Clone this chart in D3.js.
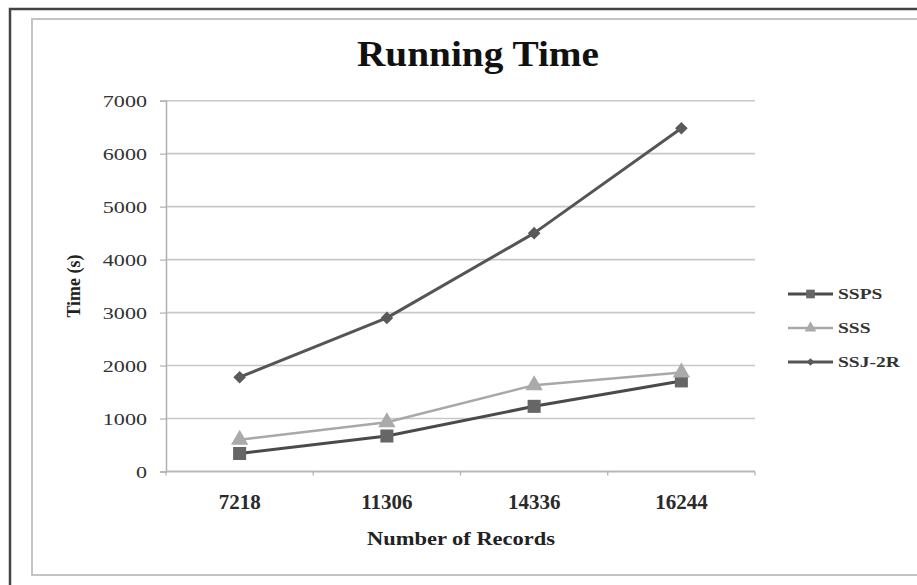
<!DOCTYPE html>
<html>
<head>
<meta charset="utf-8">
<script src="https://cdn.jsdelivr.net/npm/d3@7"></script>
<style>
html,body{margin:0;padding:0;background:#fff;}
svg{display:block;}
</style>
</head>
<body>
<svg id="chart" width="917" height="585"></svg>
<script>
const categories = ["7218", "11306", "14336", "16244"];
const seriesNames = ["SSPS", "SSS", "SSJ-2R"];
const ssps = [340, 670, 1230, 1710];
const sss = [600, 930, 1630, 1870];
const ssj2r = [1780, 2900, 4500, 6480];
const yTicks = [0, 1000, 2000, 3000, 4000, 5000, 6000, 7000];
const titleText = "Running Time";
const xTitle = "Number of Records";
const yTitle = "Time (s)";

const series = [
  {name: seriesNames[0], values: ssps, line: "#4a4a4a", fill: "#666", width: 3, shape: d3.symbolSquare, size: 170, lsize: 75, rot: 0},
  {name: seriesNames[1], values: sss, line: "#a8a8a8", fill: "#aaa", width: 2.5, shape: d3.symbolTriangle, size: 130, lsize: 60, rot: 0},
  {name: seriesNames[2], values: ssj2r, line: "#555", fill: "#5a5a5a", width: 3, shape: d3.symbolSquare, size: 80, lsize: 30, rot: 45}
];

const svg = d3.select("#chart");
const serif = "'Liberation Serif','Times New Roman',serif";

// frames
svg.append("path").attr("d", "M10,585 L10,9 L917,9").attr("fill", "none").attr("stroke", "#444").attr("stroke-width", 2.5);
svg.append("path").attr("d", "M917,575 L32,575 L32,19 L917,19").attr("fill", "none").attr("stroke", "#c4c4c4").attr("stroke-width", 2);

const x = d3.scaleBand().domain(categories).range([166, 755]).padding(0);
const y = d3.scaleLinear().domain([0, 7000]).range([471.5, 100.7]);

// gridlines
svg.append("g").selectAll("line").data(yTicks.filter(d => d > 0)).join("line")
  .attr("x1", 166).attr("x2", 755)
  .attr("y1", d => y(d)).attr("y2", d => y(d))
  .attr("stroke", "#c8c8c8").attr("stroke-width", 1.6);

// y axis
const yAxis = svg.append("g").attr("transform", "translate(166,0)")
  .call(d3.axisLeft(y).tickValues(yTicks).tickSize(6).tickFormat(d3.format("d")));
yAxis.select(".domain").attr("stroke", "#b0b0b0").attr("stroke-width", 1.5);
yAxis.selectAll(".tick line").attr("stroke", "#b0b0b0").attr("stroke-width", 1.2);
yAxis.selectAll(".tick text")
  .attr("x", 0).attr("dy", "0.34em")
  .attr("transform", "translate(-19,0) scale(1.3,1)")
  .attr("font-family", serif).attr("font-size", 17).attr("fill", "#333");

// x axis
const xAxis = svg.append("g").attr("transform", "translate(0,471.5)");
xAxis.append("line").attr("x1", 166).attr("x2", 755).attr("y1", 0).attr("y2", 0)
  .attr("stroke", "#b8b8b8").attr("stroke-width", 1.8);
const bounds = categories.map(c => x(c)).concat([x(categories[categories.length - 1]) + x.bandwidth()]);
xAxis.selectAll("line.tk").data(bounds).join("line").attr("class", "tk")
  .attr("x1", d => d).attr("x2", d => d).attr("y1", 0).attr("y2", 4)
  .attr("stroke", "#b0b0b0").attr("stroke-width", 1.2);
xAxis.selectAll("text").data(categories).join("text")
  .attr("x", d => x(d) + x.bandwidth() / 2).attr("y", 37)
  .attr("text-anchor", "middle")
  .attr("font-family", serif).attr("font-weight", "bold").attr("font-size", 21).attr("fill", "#2a2a2a")
  .text(d => d);

// lines & markers
const line = d3.line().x((d, i) => x(categories[i]) + x.bandwidth() / 2).y(d => y(d));
series.forEach(s => {
  svg.append("path").datum(s.values).attr("d", line)
    .attr("fill", "none").attr("stroke", s.line).attr("stroke-width", s.width).attr("stroke-linejoin", "round");
});
series.forEach(s => {
  svg.append("g").selectAll("path").data(s.values).join("path")
    .attr("d", d3.symbol().type(s.shape).size(s.size))
    .attr("transform", (d, i) => `translate(${x(categories[i]) + x.bandwidth() / 2},${y(d)}) rotate(${s.rot})`)
    .attr("fill", s.fill);
});

// titles
svg.append("text").attr("x", 478).attr("y", 66).attr("text-anchor", "middle")
  .attr("font-family", serif).attr("font-weight", "bold").attr("font-size", 35).attr("fill", "#111")
  .attr("textLength", 242).attr("lengthAdjust", "spacingAndGlyphs")
  .text(titleText);
svg.append("text").attr("x", 461).attr("y", 545).attr("text-anchor", "middle")
  .attr("font-family", serif).attr("font-weight", "bold").attr("font-size", 19).attr("fill", "#222")
  .attr("textLength", 188).attr("lengthAdjust", "spacingAndGlyphs")
  .text(xTitle);
svg.append("text").attr("transform", "translate(80,286) rotate(-90)").attr("text-anchor", "middle")
  .attr("font-family", serif).attr("font-weight", "bold").attr("font-size", 18).attr("fill", "#222")
  .text(yTitle);

// legend
const leg = svg.append("g");
series.forEach((s, i) => {
  const ly = 294 + i * 34;
  leg.append("line").attr("x1", 788).attr("x2", 833).attr("y1", ly).attr("y2", ly)
    .attr("stroke", s.line).attr("stroke-width", s.width);
  leg.append("path").attr("d", d3.symbol().type(s.shape).size(s.lsize))
    .attr("transform", `translate(810.5,${ly}) rotate(${s.rot})`).attr("fill", s.fill);
  leg.append("text").attr("x", 0).attr("y", 0)
    .attr("transform", `translate(838,${ly + 5}) scale(1.3,1)`)
    .attr("font-family", serif).attr("font-weight", "bold").attr("font-size", 15).attr("fill", "#333")
    .text(s.name);
});
</script>
</body>
</html>
